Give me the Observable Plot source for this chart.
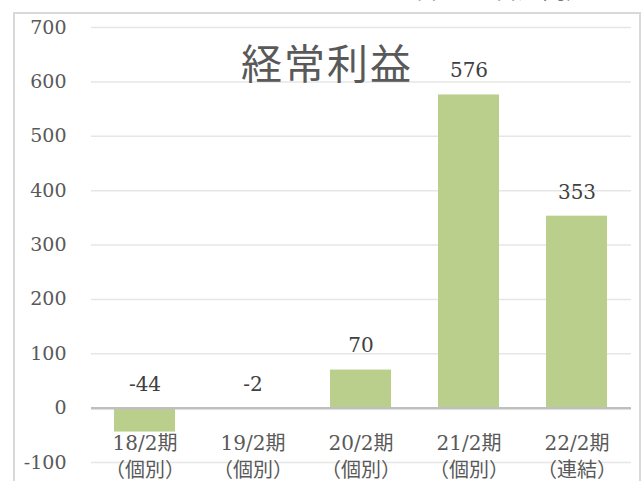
<!DOCTYPE html>
<html><head><meta charset="utf-8">
<script src="https://cdn.jsdelivr.net/npm/d3@7"></script>
<script src="https://cdn.jsdelivr.net/npm/@observablehq/plot@0.6"></script>
<style>
body{margin:0;background:#fff;width:641px;height:481px;overflow:hidden;position:relative;}
#frame{position:absolute;left:13px;top:12px;width:624px;height:480px;border:2px solid #d9d9d9;}
#chart{position:absolute;left:0;top:0;}
#title{position:absolute;left:177px;width:300px;top:36px;text-align:center;font-family:"Noto Sans CJK JP";font-size:41px;letter-spacing:2px;color:#595959;line-height:50px;}
#unit{position:absolute;right:51px;top:-24px;font-family:"Noto Sans CJK JP";font-size:24px;line-height:24px;color:#595959;white-space:nowrap;}
</style></head><body>
<div id="frame"></div>
<div id="unit">（単位：百万円）</div>
<div id="chart"></div>
<div id="title">経常利益</div>
<script>
const periods = ["18/2期","19/2期","20/2期","21/2期","22/2期"];
const scopes = ["（個別）","（個別）","（個別）","（個別）","（連結）"];
const profits = [-44, -2, 70, 576, 353];
const yTicks = [-100, 0, 100, 200, 300, 400, 500, 600, 700];

const data = periods.map((p, i) => ({period: p, scope: scopes[i], value: profits[i]}));
const serif = "'DejaVu Serif', 'Noto Sans CJK JP', serif";

const chart = Plot.plot({
  width: 641,
  height: 481,
  marginLeft: 91,
  marginRight: 10,
  marginTop: 27,
  marginBottom: 19,
  style: {fontFamily: serif, fontSize: "19px", color: "#595959", background: "transparent"},
  x: {domain: periods, paddingInner: 0.435, paddingOuter: 0.2175, axis: null},
  y: {domain: [-100, 700], axis: null},
  marks: [
    Plot.ruleY(yTicks.filter(d => d !== 0), {stroke: "#e6e6e6", strokeWidth: 1.5}),
    Plot.barY(data, {x: "period", y: "value", fill: "#b9cf8b"}),
    Plot.ruleY([0], {stroke: "#bfbfbf", strokeWidth: 2.5}),
    Plot.axisY(yTicks, {label: null, tickSize: 0, tickPadding: 25, tickFormat: d => String(d), fontSize: 19, fill: "#595959"}),
    Plot.text(data, {x: "period", y: d => Math.max(d.value, 0), text: d => String(d.value), dy: -24, fontSize: 20, fill: "#404040"}),
    Plot.text(data, {x: "period", y: () => 0, text: d => d.period + "\n" + d.scope, lineHeight: 1.35, dy: 47, fontSize: 20, fill: "#595959"})
  ]
});
document.getElementById("chart").appendChild(chart);
</script>
</body></html>
